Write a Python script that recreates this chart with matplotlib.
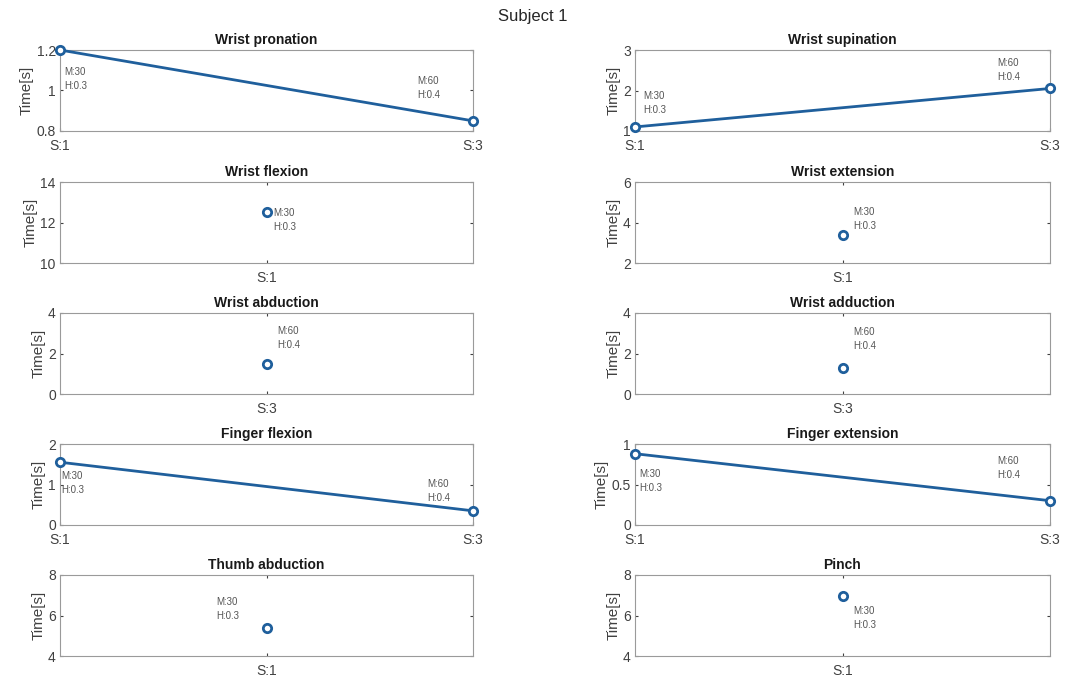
import matplotlib.pyplot as plt

plt.rcParams['font.family'] = ['Liberation Sans', 'DejaVu Sans']

# one entry per panel, in reading order (left, right, left, right, ...)
titles = ['Wrist pronation', 'Wrist supination',
          'Wrist flexion', 'Wrist extension',
          'Wrist abduction', 'Wrist adduction',
          'Finger flexion', 'Finger extension',
          'Thumb abduction', 'Pinch']
sessions = [['S:1', 'S:3'], ['S:1', 'S:3'],
            ['S:1'], ['S:1'],
            ['S:3'], ['S:3'],
            ['S:1', 'S:3'], ['S:1', 'S:3'],
            ['S:1'], ['S:1']]
times = [[1.2, 0.85], [1.1, 2.05],
         [12.5], [3.4],
         [1.5], [1.3],
         [1.55, 0.35], [0.88, 0.3],
         [5.4], [6.95]]
notes = [['M:30\nH:0.3', 'M:60\nH:0.4'], ['M:30\nH:0.3', 'M:60\nH:0.4'],
         ['M:30\nH:0.3'], ['M:30\nH:0.3'],
         ['M:60\nH:0.4'], ['M:60\nH:0.4'],
         ['M:30\nH:0.3', 'M:60\nH:0.4'], ['M:30\nH:0.3', 'M:60\nH:0.4'],
         ['M:30\nH:0.3'], ['M:30\nH:0.3']]
ylims = [(0.8, 1.2), (1, 3), (10, 14), (2, 6), (0, 4), (0, 4),
         (0, 2), (0, 1), (4, 8), (4, 8)]
yticks = [[0.8, 1, 1.2], [1, 2, 3], [10, 12, 14], [2, 4, 6], [0, 2, 4],
          [0, 2, 4], [0, 1, 2], [0, 0.5, 1], [4, 6, 8], [4, 6, 8]]

# note offsets in points relative to each marker (x, y)
note_offsets = [[(3, -12), (-40, 32)], [(6, 26), (-38, 22)],
                [(5, 3), ], [(8, 20)],
                [(8, 27)], [(8, 29)],
                [(1, -6), (-33, 23)], [(3, -11), (-38, 32)],
                [(-36, 22)], [(8, -7)]]

W, H = 1065, 684
col_left = [60, 635]
col_width = [413, 415]
row_top = [50, 182, 313, 444, 575]
row_height = 81

fig = plt.figure(figsize=(W / 100, H / 100), dpi=100)
fig.text(0.5, 1 - 16 / H, 'Subject 1', ha='center', va='center',
         fontsize=12, color='#262626')

grey = '#404040'
blue = '#1f5f9c'
for i, title in enumerate(titles):
    row, col = divmod(i, 2)
    rect = [col_left[col] / W, 1 - (row_top[row] + row_height) / H,
            col_width[col] / W, row_height / H]
    ax = fig.add_axes(rect)
    n = len(times[i])
    xs = list(range(n))
    ax.plot(xs, times[i], '-o', color=blue, lw=2, ms=6, mfc='white',
            mew=2, clip_on=False, zorder=3)
    if n == 1:
        ax.set_xlim(-1, 1)
    else:
        ax.set_xlim(0, n - 1)
    ax.set_xticks(xs)
    ax.set_xticklabels(sessions[i])
    ax.set_ylim(*ylims[i])
    ax.set_yticks(yticks[i])
    ax.set_yticklabels(['{:g}'.format(t) for t in yticks[i]])
    ax.set_ylabel('Time[s]', fontsize=11, color=grey, labelpad=2)
    ax.set_title(title, fontsize=10, fontweight='bold', color='#1a1a1a',
                 pad=4)
    for x, y, note, off in zip(xs, times[i], notes[i], note_offsets[i]):
        ax.annotate(note, (x, y), xytext=off, textcoords='offset points',
                    fontsize=7, color='#555555', va='top', ha='left',
                    linespacing=1.5)
    ax.tick_params(axis='both', labelsize=10, colors=grey, length=2,
                   direction='in', pad=3, top=True, right=True)
    ax.tick_params(axis='x', pad=6)
    for spine in ax.spines.values():
        spine.set_color('#9a9a9a')
        spine.set_linewidth(0.8)

fig.savefig('out.png', dpi=100)
